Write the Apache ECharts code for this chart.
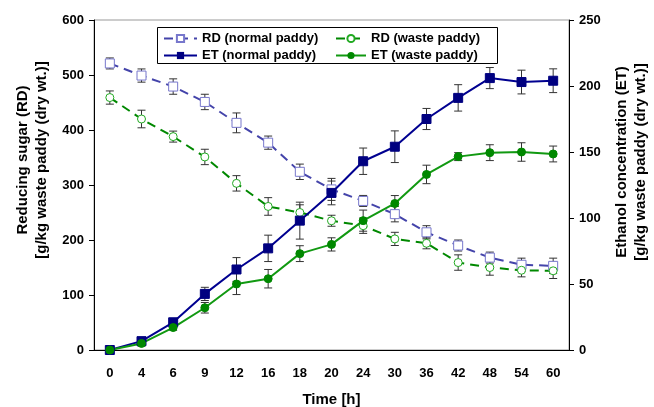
<!DOCTYPE html>
<html><head><meta charset="UTF-8">
<title>RD / ET</title>
<script src="https://cdn.jsdelivr.net/npm/echarts@6/dist/echarts.min.js"></script>
</head>
<body style="margin:0">
<div id="g1" style="width:654px;height:407px;"></div>
<script type="text/javascript">
// time points (h)
var hours = ['0', '4', '6', '9', '12', '16', '18', '20', '24', '30', '36', '42', '48', '54', '60'];

// reducing sugar, left axis
var rdNormal = [521, 499, 479, 451, 413, 377, 324, 292, 271, 247, 214, 190, 168, 155, 153];
var rdNormalErr = [10, 12, 14, 14, 18, 12, 14, 20, 10, 14, 12, 10, 10, 12, 14];
var rdWaste = [459, 420, 388, 351, 303, 261, 250, 235, 226, 202, 194, 159, 150, 145, 144];
var rdWasteErr = [12, 16, 10, 14, 14, 16, 14, 10, 14, 12, 10, 14, 14, 12, 14];

// ethanol, right axis
var etNormal = [0, 6.7, 21, 42.5, 61, 77, 98, 119, 143, 154, 175, 191, 206, 203, 204];
var etNormalErr = [0, 2, 2, 5, 9, 10, 14, 9, 10, 12, 8, 10, 8, 9, 9];
var etWaste = [0, 5, 17, 32, 50, 54, 73, 80, 98, 111, 133, 146.5, 149.5, 150, 148.5];
var etWasteErr = [0, 2, 2, 4, 8, 7, 6, 5, 8, 6, 7, 3, 6, 7, 6];

var FONT = 'Liberation Sans';

function errData(vals, errs) {
    var out = [];
    for (var i = 0; i < vals.length; i++) {
        out.push([i, vals[i] - errs[i], vals[i] + errs[i]]);
    }
    return out;
}

function errSeries(vals, errs, yIdx) {
    return {
        type: 'custom',
        yAxisIndex: yIdx,
        silent: true,
        z: 1,
        data: errData(vals, errs),
        renderItem: function (params, api) {
            var lo = api.coord([api.value(0), api.value(1)]);
            var hi = api.coord([api.value(0), api.value(2)]);
            var w = 4;
            var st = {stroke: '#333', lineWidth: 1};
            return {
                type: 'group',
                children: [
                    {type: 'line', shape: {x1: lo[0], y1: lo[1], x2: hi[0], y2: hi[1]}, style: st},
                    {type: 'line', shape: {x1: lo[0] - w, y1: lo[1], x2: lo[0] + w, y2: lo[1]}, style: st},
                    {type: 'line', shape: {x1: hi[0] - w, y1: hi[1], x2: hi[0] + w, y2: hi[1]}, style: st}
                ]
            };
        }
    };
}

var labelStyle = {color: '#000', fontFamily: FONT, fontWeight: 'bold', fontSize: 13};
var nameStyle = {color: '#000', fontFamily: FONT, fontWeight: 'bold', fontSize: 15};
var legendText = {color: '#000', fontFamily: FONT, fontWeight: 'bold', fontSize: 13};

var option = {
    animation: false,
    backgroundColor: '#fff',
    grid: {
        left: 94, right: 85, top: 20, bottom: 57, outerBoundsMode: 'none',
        show: true, borderColor: '#999', borderWidth: 1
    },
    legend: [
        {
            orient: 'vertical', left: 163, top: 32, padding: 0, itemWidth: 33, itemHeight: 9, itemGap: 4,
            textStyle: legendText,
            data: ['RD (normal paddy)', 'ET (normal paddy)']
        },
        {
            orient: 'vertical', left: 335, top: 32, padding: 0, itemWidth: 30, itemHeight: 9, itemGap: 4,
            textStyle: legendText,
            data: ['RD (waste paddy)', 'ET (waste paddy)']
        }
    ],
    graphic: [{
        type: 'rect', left: 157, top: 27, shape: {width: 340, height: 36},
        style: {fill: '#fff', stroke: '#000', lineWidth: 1}, z: 0
    }],
    xAxis: {
        type: 'category',
        data: hours,
        name: 'Time [h]',
        nameLocation: 'middle',
        nameGap: 42,
        nameTextStyle: nameStyle,
        axisLine: {lineStyle: {color: '#000'}},
        axisTick: {length: 5, lineStyle: {color: '#000'}},
        axisLabel: Object.assign({margin: 17}, labelStyle)
    },
    yAxis: [
        {
            type: 'value', min: 0, max: 600, interval: 100,
            name: 'Reducing sugar (RD)\n[g/kg waste paddy (dry wt.)]',
            nameLocation: 'middle', nameGap: 42,
            nameTextStyle: Object.assign({lineHeight: 19, padding: [0, 0, 0, 50]}, nameStyle),
            splitLine: {show: false},
            axisLine: {show: true, lineStyle: {color: '#000'}},
            axisTick: {show: true, length: 5, lineStyle: {color: '#000'}},
            axisLabel: Object.assign({margin: 10}, labelStyle)
        },
        {
            type: 'value', min: 0, max: 250, interval: 50,
            name: 'Ethanol concentration (ET)\n[g/kg waste paddy (dry wt.)]',
            nameLocation: 'middle', nameGap: 43, nameRotate: 90,
            nameTextStyle: Object.assign({lineHeight: 19, padding: [0, 0, 0, 46]}, nameStyle),
            splitLine: {show: false},
            axisLine: {show: true, lineStyle: {color: '#000'}},
            axisTick: {show: true, length: 5, lineStyle: {color: '#000'}},
            axisLabel: Object.assign({margin: 10}, labelStyle)
        }
    ],
    series: [
        errSeries(rdNormal, rdNormalErr, 0),
        errSeries(rdWaste, rdWasteErr, 0),
        errSeries(etNormal, etNormalErr, 1),
        errSeries(etWaste, etWasteErr, 1),
        {
            name: 'RD (normal paddy)', type: 'line', yAxisIndex: 0, data: rdNormal, z: 3,
            symbol: 'rect', symbolSize: 9, color: '#6666cc',
            lineStyle: {color: '#4444aa', width: 2, type: [9, 6]},
            itemStyle: {color: '#fff', borderColor: '#7777cc', borderWidth: 1}
        },
        {
            name: 'RD (waste paddy)', type: 'line', yAxisIndex: 0, data: rdWaste, z: 3,
            symbol: 'circle', symbolSize: 8, color: '#00a000',
            lineStyle: {color: '#008800', width: 2, type: [9, 6]},
            itemStyle: {color: '#fff', borderColor: '#22aa22', borderWidth: 1}
        },
        {
            name: 'ET (normal paddy)', type: 'line', yAxisIndex: 1, data: etNormal, z: 4,
            symbol: 'rect', symbolSize: 9, color: '#000080',
            lineStyle: {color: '#000090', width: 2},
            itemStyle: {color: '#000080', borderColor: '#000080'}
        },
        {
            name: 'ET (waste paddy)', type: 'line', yAxisIndex: 1, data: etWaste, z: 4,
            symbol: 'circle', symbolSize: 8, color: '#008800',
            lineStyle: {color: '#119911', width: 2},
            itemStyle: {color: '#008800', borderColor: '#008800'}
        }
    ]
};

var myChart = echarts.init(document.getElementById('g1'));
myChart.setOption(option);
</script>
</body></html>
